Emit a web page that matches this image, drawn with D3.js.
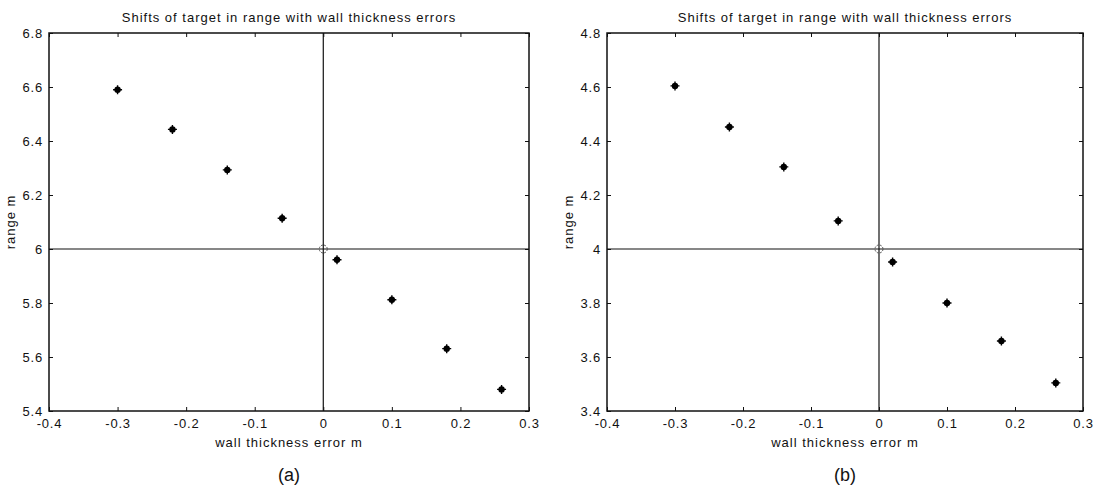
<!DOCTYPE html>
<html>
<head>
<meta charset="utf-8">
<script src="https://cdn.jsdelivr.net/npm/d3@7"></script>
<style>
  body { margin: 0; background: white; }
  svg { display: block; font-family: "Liberation Sans", Arial, sans-serif; }
</style>
</head>
<body>
<svg id="chart" width="1103" height="490"></svg>
<script>
// Two scatter panels: range shift of target vs wall thickness error.

const thicknessErrors = [-0.3, -0.22, -0.14, -0.06, 0.02, 0.10, 0.18, 0.26];
const rangeA = [6.59, 6.443, 6.293, 6.114, 5.96, 5.812, 5.631, 5.48];
const rangeB = [4.604, 4.452, 4.304, 4.104, 3.952, 3.80, 3.659, 3.504];
const xTicks = [-0.4, -0.3, -0.2, -0.1, 0, 0.1, 0.2, 0.3];
const yTicksA = [5.4, 5.6, 5.8, 6, 6.2, 6.4, 6.6, 6.8];
const yTicksB = [3.4, 3.6, 3.8, 4, 4.2, 4.4, 4.6, 4.8];
const trueRangeA = 6;
const trueRangeB = 4;

const svg = d3.select("#chart");

function drawPanel(opts) {
  const { left, right, top, bottom, ys, yTicks, trueRange, tag } = opts;

  const x = d3.scaleLinear().domain([-0.4, 0.3]).range([left, right]);
  const y = d3.scaleLinear().domain([yTicks[0], yTicks[yTicks.length - 1]]).range([bottom, top]);

  const g = svg.append("g");
  // plain hyphen minus, like the original
  const fmt = d => String(d);

  // ticks inward on all four sides
  g.append("g")
    .attr("transform", `translate(0,${bottom})`)
    .call(d3.axisBottom(x).tickValues(xTicks).tickSizeInner(-4).tickSizeOuter(0).tickPadding(8).tickFormat(fmt))
    .call(a => a.select(".domain").remove());
  g.append("g")
    .attr("transform", `translate(0,${top})`)
    .call(d3.axisTop(x).tickValues(xTicks).tickSizeInner(-4).tickSizeOuter(0).tickFormat(""))
    .call(a => a.select(".domain").remove());
  g.append("g")
    .attr("transform", `translate(${left},0)`)
    .call(d3.axisLeft(y).tickValues(yTicks).tickSizeInner(-4).tickSizeOuter(0).tickPadding(6).tickFormat(fmt))
    .call(a => a.select(".domain").remove());
  g.append("g")
    .attr("transform", `translate(${right},0)`)
    .call(d3.axisRight(y).tickValues(yTicks).tickSizeInner(-4).tickSizeOuter(0).tickFormat(""))
    .call(a => a.select(".domain").remove());

  g.selectAll(".tick text")
    .attr("fill", "#111")
    .attr("font-size", 13)
    .attr("letter-spacing", "0.8px");
  g.selectAll(".tick line").attr("stroke", "#111");

  // crosshair through the true target position
  g.append("line")
    .attr("x1", x(0)).attr("x2", x(0))
    .attr("y1", top).attr("y2", bottom)
    .attr("stroke", "#111").attr("stroke-width", 1.2);
  g.append("line")
    .attr("x1", left).attr("x2", right)
    .attr("y1", y(trueRange)).attr("y2", y(trueRange))
    .attr("stroke", "#111").attr("stroke-width", 1.2);

  g.append("rect")
    .attr("x", left).attr("y", top)
    .attr("width", right - left).attr("height", bottom - top)
    .attr("fill", "none")
    .attr("stroke", "#111")
    .attr("stroke-width", 1.5);

  // true target: open circle
  g.append("circle")
    .attr("cx", x(0)).attr("cy", y(trueRange))
    .attr("r", 4)
    .attr("fill", "none")
    .attr("stroke", "#555")
    .attr("stroke-width", 1)
    .attr("stroke-dasharray", "2,1.2");

  const pts = thicknessErrors.map((e, i) => ({ e, r: ys[i] }));
  const marks = g.selectAll(".pt").data(pts).join("g")
    .attr("class", "pt")
    .attr("transform", d => `translate(${x(d.e)},${y(d.r)})`);
  marks.append("circle").attr("r", 3.2).attr("fill", "#000");
  marks.append("path")
    .attr("d", "M-4.5,0H4.5M0,-4.5V4.5")
    .attr("stroke", "#000")
    .attr("stroke-width", 1.4);

  const cx = (left + right) / 2;
  g.append("text")
    .attr("x", cx).attr("y", 22)
    .attr("text-anchor", "middle")
    .attr("font-size", 13)
    .attr("letter-spacing", "1px")
    .attr("fill", "#111")
    .text("Shifts of target in range with wall thickness errors");

  g.append("text")
    .attr("x", cx).attr("y", 447)
    .attr("text-anchor", "middle")
    .attr("font-size", 13)
    .attr("letter-spacing", "1px")
    .attr("fill", "#111")
    .text("wall thickness error m");

  g.append("text")
    .attr("transform", `translate(${left - 34},${(top + bottom) / 2}) rotate(-90)`)
    .attr("text-anchor", "middle")
    .attr("font-size", 13)
    .attr("letter-spacing", "1px")
    .attr("fill", "#111")
    .text("range m");

  g.append("text")
    .attr("x", cx).attr("y", 481)
    .attr("text-anchor", "middle")
    .attr("font-size", 18)
    .attr("fill", "#111")
    .text(tag);
}

drawPanel({ left: 49, right: 529, top: 33, bottom: 411, ys: rangeA, yTicks: yTicksA, trueRange: trueRangeA, tag: "(a)" });
drawPanel({ left: 607, right: 1083, top: 33, bottom: 411, ys: rangeB, yTicks: yTicksB, trueRange: trueRangeB, tag: "(b)" });
</script>
</body>
</html>
